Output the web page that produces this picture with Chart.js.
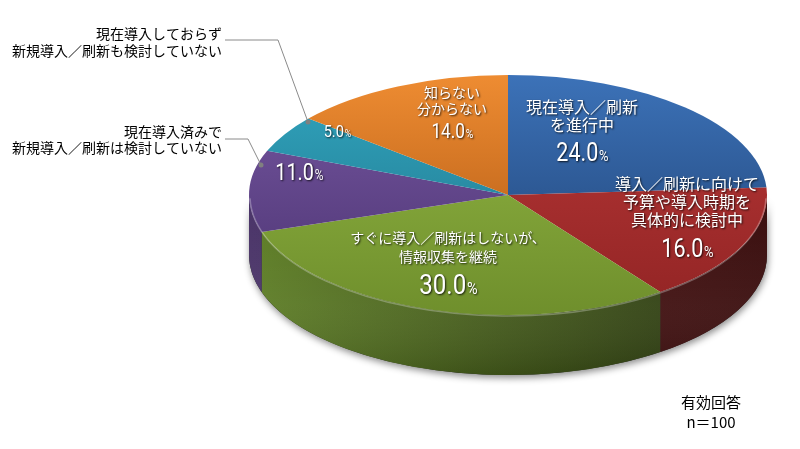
<!DOCTYPE html>
<html><head><meta charset="utf-8">
<script src="https://cdn.jsdelivr.net/npm/chart.js@4.4.1/dist/chart.umd.min.js"></script>
<style>html,body{margin:0;padding:0;background:#fff}#wrap{width:800px;height:449px;position:relative}</style>
</head><body><div id="wrap"><canvas id="c"></canvas></div>
<script>
// ---- data ----
const categories = ["現在導入／刷新を進行中", "導入／刷新に向けて予算や導入時期を具体的に検討中", "すぐに導入／刷新はしないが、情報収集を継続", "現在導入済みで新規導入／刷新は検討していない", "現在導入しておらず新規導入／刷新も検討していない", "知らない分からない"];
const values = [24.0, 16.0, 30.0, 11.0, 5.0, 14.0];
const insideLines = [["現在導入／刷新", "を進行中"], ["導入／刷新に向けて", "予算や導入時期を", "具体的に検討中"], ["すぐに導入／刷新はしないが、", "情報収集を継続"], [], [], ["知らない", "分からない"]];
const outsideLines = [[], [], [], ["現在導入済みで", "新規導入／刷新は検討していない"], ["現在導入しておらず", "新規導入／刷新も検討していない"], []];
const footnote = ["有効回答", "n＝100"];

// ---- styles ----
const topLight = ['#3C72B8', '#B83838', '#93B745', '#7758A2', '#31A6C0', '#EE8C32'];
const topDark  = ['#1E3F70', '#922424', '#6F8F2C', '#4A3270', '#1F7085', '#A8520F'];
const sideLight = ['#2A5590', '#561818', '#5E7E26', '#4A3468', '#1F7085', '#A8520F'];
const sideDark  = ['#1E3F70', '#3A0E0E', '#26320E', '#3A2856', '#1F7085', '#A8520F'];
const RX = 259, RY = 120, DEPTH = 60;
const CX = 508, CY = 195, R = 120;
const JP = '"Noto Sans CJK JP", "Noto Sans", sans-serif';
const NUM = 'Roboto, "DejaVu Sans", sans-serif';
const labelLayout = [
  {x: 582, ly: [107, 125], fs: 16, py: 152, ps: 25},
  {x: 687, ly: [184, 202, 220], fs: 16, py: 248, ps: 25},
  {x: 448, ly: [238, 257], fs: 14, py: 284, ps: 28},
  {x: 299, ly: [], fs: 14, py: 172, ps: 23},
  {x: 337, ly: [], fs: 14, py: 131, ps: 17},
  {x: 452, ly: [93, 109], fs: 14, py: 131, ps: 20}
];
const outsideLayout = {
  3: {tx: 222, ly: [132, 148], path: [[225, 139], [248, 139], [261, 165]]},
  4: {tx: 222, ly: [34, 51], path: [[225, 40], [278, 40], [308, 122]]}
};

function shadowOn(ctx) {
  ctx.shadowColor = 'rgba(0,0,0,0.8)'; ctx.shadowBlur = 2; ctx.shadowOffsetX = 1; ctx.shadowOffsetY = 1;
}
function drawPct(ctx, v, x, ym, size) {
  const num = v.toFixed(1), pc = '%';
  const sx = 0.86;
  ctx.font = `${size}px ${NUM}`;
  const w1 = ctx.measureText(num).width;
  const ps = size * 0.6;
  ctx.font = `${ps}px ${NUM}`;
  const w2 = ctx.measureText(pc).width;
  const total = (w1 + w2) * sx;
  const base = ym + size * 0.36;
  ctx.save();
  ctx.translate(x - total / 2, base);
  ctx.scale(sx, 1);
  ctx.textAlign = 'left'; ctx.textBaseline = 'alphabetic';
  ctx.fillStyle = '#fff';
  ctx.font = `${size}px ${NUM}`;
  ctx.fillText(num, 0, 0);
  ctx.font = `${ps}px ${NUM}`;
  ctx.fillText(pc, w1 + 1, 0);
  ctx.restore();
}

const pie3d = {
  id: 'pie3d',
  beforeDatasetsDraw(chart) {
    const ctx = chart.ctx;
    const arcs = chart.getDatasetMeta(0).data;
    if (!arcs.length) return;
    const cx = arcs[0].x, cy = arcs[0].y, r = arcs[0].outerRadius;
    // drop shadow of whole side
    ctx.save();
    ctx.beginPath();
    ctx.ellipse(cx, cy, RX, RY, 0, 0, Math.PI);
    ctx.ellipse(cx, cy + DEPTH, RX, RY, 0, Math.PI, 0, true);
    ctx.closePath();
    ctx.shadowColor = 'rgba(0,0,0,0.45)'; ctx.shadowBlur = 7; ctx.shadowOffsetY = 3; ctx.shadowOffsetX = 1;
    ctx.fillStyle = '#2a2a2a'; ctx.fill();
    ctx.restore();
    // sides of each slice
    arcs.forEach((a, i) => {
      const a1 = Math.max(a.startAngle, 0), a2 = Math.min(a.endAngle, Math.PI);
      if (a2 <= a1) return;
      const g = ctx.createLinearGradient(cx - RX, 0, cx + RX, 0);
      g.addColorStop(0, sideLight[i]); g.addColorStop(1, sideDark[i]);
      ctx.beginPath();
      ctx.ellipse(cx, cy, RX, RY, 0, a1, a2);
      ctx.ellipse(cx, cy + DEPTH, RX, RY, 0, a2, a1, true);
      ctx.closePath();
      ctx.fillStyle = g; ctx.fill();
    });
    // vertical shading on side
    ctx.save();
    ctx.beginPath();
    ctx.ellipse(cx, cy, RX, RY, 0, 0, Math.PI);
    ctx.ellipse(cx, cy + DEPTH, RX, RY, 0, Math.PI, 0, true);
    ctx.closePath();
    const vg = ctx.createLinearGradient(0, cy, 0, cy + RY + DEPTH);
    vg.addColorStop(0, 'rgba(255,255,255,0.0)');
    vg.addColorStop(0.6, 'rgba(255,255,255,0.05)');
    vg.addColorStop(1, 'rgba(0,0,0,0.12)');
    ctx.fillStyle = vg; ctx.fill();
    ctx.restore();
    // transform for the elliptical top face
    ctx.save();
    ctx.translate(cx, cy); ctx.scale(RX / r, RY / r); ctx.translate(-cx, -cy);
  },
  afterDatasetsDraw(chart) {
    const ctx = chart.ctx;
    ctx.restore();
    const arcs = chart.getDatasetMeta(0).data;
    if (!arcs.length) return;
    const cx = arcs[0].x, cy = arcs[0].y;
    // rim highlight along front edge
    ctx.save();
    ctx.beginPath();
    ctx.ellipse(cx, cy + 1, RX - 1, RY, 0, 0.02, Math.PI - 0.02);
    ctx.strokeStyle = 'rgba(255,255,255,0.28)'; ctx.lineWidth = 1.5; ctx.stroke();
    ctx.restore();
    // inside labels
    values.forEach((v, i) => {
      const L = labelLayout[i];
      ctx.save();
      shadowOn(ctx);
      ctx.fillStyle = '#fff';
      ctx.textAlign = 'center'; ctx.textBaseline = 'middle';
      ctx.font = `${L.fs}px ${JP}`;
      insideLines[i].forEach((t, k) => ctx.fillText(t, L.x, L.ly[k]));
      drawPct(ctx, v, L.x, L.py, L.ps);
      ctx.restore();
    });
    // outside labels with leader lines
    Object.keys(outsideLayout).forEach(k => {
      const O = outsideLayout[k];
      ctx.save();
      ctx.strokeStyle = '#8a8a8a'; ctx.lineWidth = 1;
      ctx.beginPath();
      O.path.forEach((p, j) => j ? ctx.lineTo(p[0], p[1]) : ctx.moveTo(p[0], p[1]));
      ctx.stroke();
      const last = O.path[O.path.length - 1];
      ctx.fillStyle = '#808080';
      ctx.beginPath(); ctx.arc(last[0], last[1], 2.5, 0, Math.PI * 2); ctx.fill();
      ctx.fillStyle = '#000';
      ctx.font = `14px ${JP}`;
      ctx.textAlign = 'right'; ctx.textBaseline = 'middle';
      outsideLines[k].forEach((t, j) => ctx.fillText(t, O.tx, O.ly[j]));
      ctx.restore();
    });
    // footnote
    ctx.save();
    ctx.fillStyle = '#000'; ctx.font = `15px ${JP}`;
    ctx.textAlign = 'center'; ctx.textBaseline = 'middle';
    ctx.fillText(footnote[0], 711, 402);
    ctx.fillText(footnote[1], 711, 422);
    ctx.restore();
  }
};

new Chart(document.getElementById('c'), {
  type: 'pie',
  data: {
    labels: categories,
    datasets: [{
      data: values,
      borderWidth: 0,
      backgroundColor: (c) => {
        const i = c.dataIndex;
        const ca = c.chart.chartArea;
        if (!ca) return topLight[i];
        const g = c.chart.ctx.createLinearGradient(0, ca.top, 0, ca.bottom);
        g.addColorStop(0, topLight[i]); g.addColorStop(1, topDark[i]);
        return g;
      }
    }]
  },
  options: {
    responsive: true,
    maintainAspectRatio: false,
    animation: false,
    events: [],
    layout: {padding: {left: CX - R, right: 800 - CX - R, top: CY - R, bottom: 449 - CY - R}},
    plugins: {legend: {display: false}, tooltip: {enabled: false}}
  },
  plugins: [pie3d]
});
</script>
</body></html>
